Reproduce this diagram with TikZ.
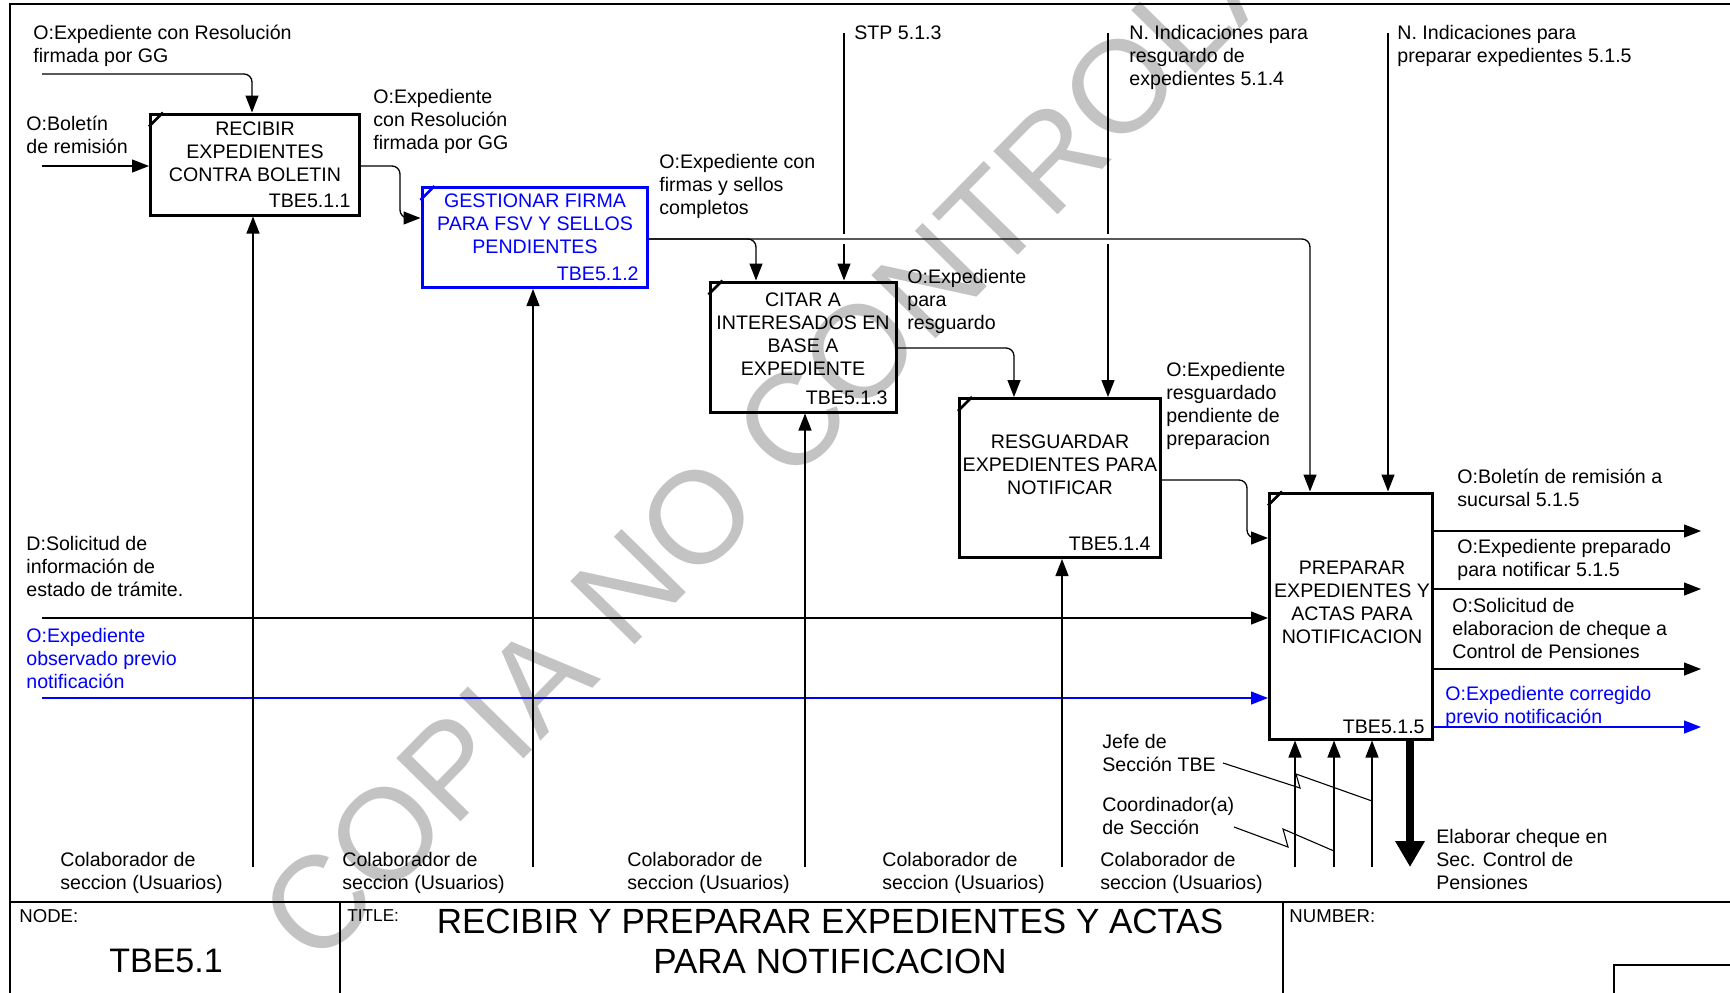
\documentclass[tikz,border=0pt]{standalone}
\usepackage{fontspec}
\setmainfont{Liberation Sans}
\usetikzlibrary{arrows.meta}
\definecolor{idefblue}{RGB}{0,0,255}
\definecolor{wmgray}{RGB}{195,195,195}
\begin{document}
\begin{tikzpicture}[x=0.5pt,y=-0.5pt,
  lab/.style={anchor=north west,inner sep=0pt,align=left,font=\fontsize{9.8}{11.5}\selectfont},
  boxtxt/.style={anchor=north,inner sep=0pt,align=center,font=\fontsize{9.8}{11.5}\selectfont},
  idtxt/.style={anchor=base east,inner sep=0pt,font=\fontsize{9.8}{11.5}\selectfont},
  act/.style={draw,line width=1.5pt,inner sep=0pt},
  con/.style={line width=0.65pt},
  arr/.style={con,-{Triangle[length=8.5pt,width=6.5pt]}},
  rc/.style={rounded corners=4pt},
  frm/.style={line width=0.8pt},
  hdr/.style={anchor=north west,inner sep=0pt,font=\fontsize{9.3}{11}\selectfont},
]
\useasboundingbox (0,0) rectangle (1730,992);
\fill[white] (0,0) rectangle (1730,992);
\clip (0,0) rectangle (1730,992);

% watermark
\node[rotate=45.5,text=wmgray,inner sep=0pt,font=\fontsize{65.5}{70}\selectfont] (wmark) at (840,372) {COPIA NO CONTROLADA};

% frame and title block
\draw[frm] (10,1100) -- (10,4) -- (1800,4);
\draw[frm] (10,902) -- (1800,902);
\draw[frm] (340,902) -- (340,1100);
\draw[frm] (1283,902) -- (1283,1100);
\draw[frm] (1614,1100) -- (1614,965) -- (1800,965);
\node[hdr] (nodehdr) at (19,909) {NODE:};
\node[hdr,font=\fontsize{8.6}{10}\selectfont] (titlehdr) at (347,909) {TITLE:};
\node[hdr] (numhdr) at (1289,909) {NUMBER:};
\node[inner sep=0pt,font=\fontsize{17}{20}\selectfont] (nodeid) at (166,961) {TBE5.1};
\node[anchor=north,inner sep=0pt,align=center,font=\fontsize{17.5}{20}\selectfont] (ttl) at (830,909) {RECIBIR Y PREPARAR EXPEDIENTES Y ACTAS\\PARA NOTIFICACION};

% activity boxes
\node[act,minimum width=104.5pt,minimum height=50.5pt] (A) at (255,164.5) {};
\node[act,draw=idefblue,minimum width=112.5pt,minimum height=50pt] (B) at (534.5,237.5) {};
\node[act,minimum width=93pt,minimum height=65pt] (C) at (803,347) {};
\node[act,minimum width=100.5pt,minimum height=79.5pt] (D) at (1060,478) {};
\node[act,minimum width=81.5pt,minimum height=123pt] (E) at (1351,616) {};
\foreach \bn/\cl in {A/black,B/idefblue,C/black,D/black,E/black}
  \draw[line width=1.3pt,\cl] ([yshift=-7pt]\bn.north west) -- ([xshift=7pt]\bn.north west);

\node[boxtxt] (tA) at (255,121) {RECIBIR\\EXPEDIENTES\\CONTRA BOLETIN};
\node[idtxt] (idA) at (351,207) {TBE5.1.1};
\node[boxtxt,text=idefblue] (tB) at (535,193) {GESTIONAR FIRMA\\PARA FSV Y SELLOS\\PENDIENTES};
\node[idtxt,text=idefblue] (idB) at (639,280) {TBE5.1.2};
\node[boxtxt] (tC) at (803,292) {CITAR A\\INTERESADOS EN\\BASE A\\EXPEDIENTE};
\node[idtxt] (idC) at (888,404) {TBE5.1.3};
\node[boxtxt] (tD) at (1060,434) {RESGUARDAR\\EXPEDIENTES PARA\\NOTIFICAR};
\node[idtxt] (idD) at (1151,550) {TBE5.1.4};
\node[boxtxt] (tE) at (1352,561) {PREPARAR\\EXPEDIENTES Y\\ACTAS PARA\\NOTIFICACION};
\node[idtxt] (idE) at (1425,733) {TBE5.1.5};

% labels
\node[lab] (l1) at (33,25) {O:Expediente con Resolución\\firmada por GG};
\node[lab] (l2) at (26,116) {O:Boletín\\de remisión};
\node[lab] (l3) at (373,89) {O:Expediente\\con Resolución\\firmada por GG};
\node[lab] (l4) at (659,154) {O:Expediente con\\firmas y sellos\\completos};
\node[lab] (l5) at (854,25) {STP 5.1.3};
\node[lab] (l6) at (1129,25) {N. Indicaciones para\\resguardo de\\expedientes 5.1.4};
\node[lab] (l7) at (1397,25) {N. Indicaciones para\\preparar expedientes 5.1.5};
\node[lab] (l8) at (907,269) {O:Expediente\\para\\resguardo};
\node[lab] (l9) at (1166,362) {O:Expediente\\resguardado\\pendiente de\\preparacion};
\node[lab] (l10) at (26,536) {D:Solicitud de\\información de\\estado de trámite.};
\node[lab,text=idefblue] (l11) at (26,628) {O:Expediente\\observado previo\\notificación};
\node[lab] (l12) at (1457,469) {O:Boletín de remisión a\\sucursal 5.1.5};
\node[lab] (l13) at (1457,539) {O:Expediente preparado\\para notificar 5.1.5};
\node[lab] (l14) at (1452,598) {O:Solicitud de\\elaboracion de cheque a\\Control de Pensiones};
\node[lab,text=idefblue] (l15) at (1445,686) {O:Expediente corregido\\previo notificación};
\node[lab] (l16) at (1102,734) {Jefe de\\Sección TBE};
\node[lab] (l17) at (1102,797) {Coordinador(a)\\de Sección};
\node[lab] (u1) at (60,852) {Colaborador de\\seccion (Usuarios)};
\node[lab] (u2) at (342,852) {Colaborador de\\seccion (Usuarios)};
\node[lab] (u3) at (627,852) {Colaborador de\\seccion (Usuarios)};
\node[lab] (u4) at (882,852) {Colaborador de\\seccion (Usuarios)};
\node[lab] (u5) at (1100,852) {Colaborador de\\seccion (Usuarios)};
\node[lab] (l18) at (1436,829) {Elaborar cheque en\\Sec. Control de\\Pensiones};

% free ends and bends
\coordinate (cA) at (42,74);
\coordinate (cA2) at (252,74);
\coordinate (iA) at (42,166);
\coordinate (bA) at (400,218);
\coordinate (kB) at (1310,239);
\coordinate (kC) at (756,239);
\coordinate (sC) at (844,33);
\coordinate (nD) at (1108,33);
\coordinate (nE) at (1388,33);
\coordinate (kD) at (1014,348);
\coordinate (kE) at (1247,480);
\coordinate (kE2) at (1247,538);
\coordinate (iE1) at (42,618);
\coordinate (iE2) at (42,698);
\coordinate (oE1) at (1701,531);
\coordinate (oE2) at (1701,589);
\coordinate (oE3) at (1701,669);
\coordinate (oE4) at (1701,727);
\coordinate (mA) at (253,867);
\coordinate (mB) at (533,867);
\coordinate (mC) at (805,867);
\coordinate (mD) at (1062,867);
\coordinate (mE1) at (1295,867);
\coordinate (mE2) at (1334,867);
\coordinate (mE3) at (1372,867);
\coordinate (oE5) at (1410,867);
\coordinate (jA) at (1223,763);
\coordinate (jB) at (1372,801);
\coordinate (kA) at (1234,827);
\coordinate (kB2) at (1334,851);

% connectors
\draw[arr,rc] (cA) -- (cA2) -- (cA2 |- A.north);
\draw[arr] (iA) -- (iA -| A.west);
\draw[arr,rc] (A.east |- iA) -- (bA |- iA) -- (bA) -- (bA -| B.west);
\draw[arr,rc] (B.east |- kB) -- (kB) -- (kB |- E.north);
\draw[arr,rc] (B.east |- kC) -- (kC) -- (kC |- C.north);
\draw[con] (sC) -- ([yshift=2.5pt]sC |- kB);
\draw[arr] ([yshift=-2.5pt]sC |- kB) -- (sC |- C.north);
\draw[con] (nD) -- ([yshift=2.5pt]nD |- kB);
\draw[arr] ([yshift=-2.5pt]nD |- kB) -- (nD |- D.north);
\draw[arr] (nE) -- (nE |- E.north);
\draw[arr,rc] (C.east |- kD) -- (kD) -- (kD |- D.north);
\draw[arr,rc] (D.east |- kE) -- (kE) -- (kE2) -- (kE2 -| E.west);
\draw[arr] (iE1) -- (iE1 -| E.west);
\draw[arr,idefblue] (iE2) -- (iE2 -| E.west);
\draw[arr] (oE1 -| E.east) -- (oE1);
\draw[arr] (oE2 -| E.east) -- (oE2);
\draw[arr] (oE3 -| E.east) -- (oE3);
\draw[arr,idefblue] (oE4 -| E.east) -- (oE4);

% mechanisms with gaps at the crossings
\foreach \mm/\bx in {mA/A,mB/B,mC/C,mD/D}{
  \draw[con] (\mm) -- ([yshift=2.5pt]\mm |- iE2);
  \draw[con] ([yshift=-2.5pt]\mm |- iE2) -- ([yshift=2.5pt]\mm |- iE1);
  \draw[arr] ([yshift=-2.5pt]\mm |- iE1) -- (\mm |- \bx.south);
}
\draw[arr] (mE1) -- (mE1 |- E.south);
\draw[arr] (mE2) -- (mE2 |- E.south);
\draw[arr] (mE3) -- (mE3 |- E.south);
\draw[line width=3.7pt,-{Triangle[length=13pt,width=14pt]}] (oE5 |- E.south) -- (oE5);

% squiggles
\draw[line width=0.55pt] (jA) -- (1300,788) -- (1296,774) -- (jB);
\draw[line width=0.55pt] (kA) -- (1288,847) -- (1283,829) -- (kB2);
\end{tikzpicture}
\end{document}
